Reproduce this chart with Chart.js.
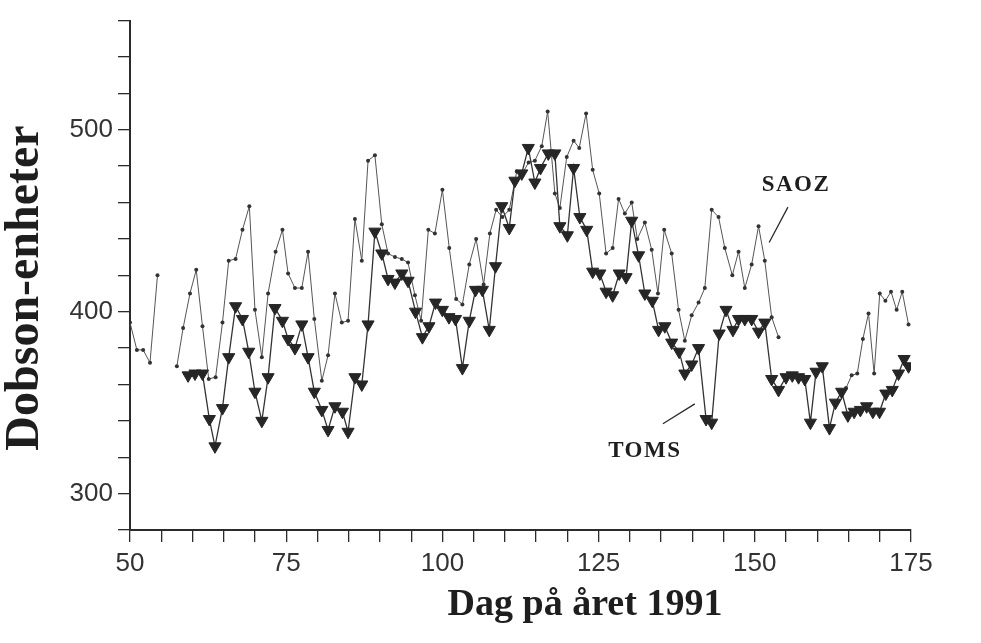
<!DOCTYPE html>
<html>
<head>
<meta charset="utf-8">
<script src="https://cdn.jsdelivr.net/npm/chart.js@4.4.1/dist/chart.umd.min.js"></script>
<style>
    html, body { margin: 0; background: #fff; }
    #wrap { width: 981px; height: 643px; }
</style>
</head>
<body>
<div id="wrap"><canvas id="chart" width="981" height="643"></canvas></div>
<script>
// SAOZ (null = no measurement, breaks the line)
const saozDays = [
    50, 51.1, 52.1, 53.2, 54.4, 56,
    57.5, 58.5, 59.6, 60.6, 61.6, 62.6, 63.7, 64.8, 65.8, 66.9, 68.0, 69.1, 70.0,
    71.1, 72.1, 73.3, 74.4, 75.3, 76.4, 77.5, 78.5, 79.5, 80.7, 81.7, 82.8, 83.9, 84.9,
    86.0, 87.1, 88.1, 89.2, 90.3, 91.3, 92.4, 93.5, 94.5, 95.6, 96.6, 97.75, 98.8,
    100.0, 101.1, 102.2, 103.2, 104.3, 105.4, 106.6, 107.6, 108.6, 109.6, 110.7,
    111.9, 112.8, 113.8, 114.8, 115.9, 116.85, 118.0, 118.8, 119.9, 121.0, 121.9,
    123.0, 124.05, 125.1, 126.2, 127.25, 128.2, 129.2, 130.3, 131.2, 132.4, 133.5,
    134.5, 135.5, 136.7, 137.8, 138.8, 139.9, 141.0, 142.0, 143.1, 144.2, 145.2,
    146.4, 147.4, 148.4, 149.5, 150.6, 151.6, 152.7, 153.8, 159,
    164.6, 165.5, 166.4, 167.3, 168.2, 169.1, 170.0, 170.9, 171.8, 172.7, 173.6, 174.6
];
const saozDobson = [
    394, 379, 379, 372, 420, null,
    370, 391, 410, 423, 392, 363, 364, 394, 428, 429, 445, 458, 401,
    375, 410, 433, 445, 421, 413, 413, 433, 396, 362, 376, 410, 394, 395,
    451, 428, 483, 486, 448, 432, 430, 429, 427, 409, 395, 445, 443,
    467, 435, 407, 404, 426, 440, 415, 443, 456, 452, 456,
    477, 476, 482, 483, 491, 510, 465, 457, 485, 494, 490,
    509, 478, 465, 432, 435, 462, 454, 460, 440, 449, 434,
    410, 445, 432, 401, 384, 398, 405, 413, 456, 452, 435,
    420, 433, 413, 426, 447, 428, 397, 386, null,
    358, 365, 366, 385, 399, 366, 410, 406, 411, 401, 411, 393
];

// TOMS
const tomsDays = [
    59.3, 60.4, 61.6, 62.7, 63.6, 64.8, 65.8, 66.9, 68.0, 69.0, 70.0, 71.1,
    72.1, 73.2, 74.4, 75.3, 76.4, 77.5, 78.5, 79.5, 80.7, 81.7, 82.8, 84.0, 84.9,
    86.0, 87.1, 88.1, 89.2, 90.3, 91.3, 92.4, 93.5, 94.5, 95.7, 96.8, 97.85, 98.9,
    100.0, 101.05, 102.1, 103.2, 104.3, 105.3, 106.4, 107.5, 108.5, 109.5, 110.7,
    111.6, 112.7, 113.75, 114.8, 115.7, 116.95, 118.0, 118.8, 120.0, 121.0, 122.0,
    123.1, 124.05, 125.2, 126.2, 127.25, 128.3, 129.4, 130.3, 131.4, 132.4, 133.6,
    134.6, 135.6, 136.7, 137.9, 138.8, 139.9, 141.0, 142.2, 143.1, 144.3, 145.4,
    146.5, 147.4, 148.4, 149.5, 150.6, 151.6, 152.7, 153.8, 155.0, 156.0, 157.0,
    158.0, 158.9, 159.8, 160.8, 161.95, 162.9, 163.9, 164.9, 165.9, 166.9, 167.9,
    168.9, 169.96, 170.97, 172.0, 173.0, 173.9, 174.6
];
const tomsDobson = [
    365, 366, 366, 341, 326, 347, 375, 403, 396, 378, 356, 340,
    364, 402, 395, 385, 380, 393, 375, 356, 346, 335, 348, 345, 334,
    364, 360, 393, 444, 432, 418, 416, 421, 417, 400, 386, 392, 405,
    401, 397, 396, 369, 395, 412, 412, 390, 425, 458, 446,
    472, 476, 490, 471, 479, 487, 487, 447, 442, 479, 452,
    445, 422, 421, 411, 409, 421, 419, 450, 431, 410, 406,
    390, 392, 383, 378, 366, 371, 380, 341, 339, 388, 401,
    390, 396, 396, 396, 389, 394, 363, 357, 364, 365, 364,
    363, 339, 367, 370, 336, 350, 356, 343, 345, 346, 348,
    345, 345, 355, 357, 366, 374, 370
];

const xLabelled = [50, 75, 100, 125, 150, 175];
const yLabelled = [300, 400, 500];

const ink = "#2b2b2b";
const serif = "'Liberation Serif', 'DejaVu Serif', serif";
const sans = "'Liberation Sans', Arial, sans-serif";

// axis titles and the two series labels with their pointer lines
const labelsPlugin = {
    id: "figureLabels",
    afterDraw(chart){
        const { ctx, scales: { x, y } } = chart;
        ctx.save();
        ctx.fillStyle = "#1e1e1e";
        ctx.textAlign = "center";
        ctx.textBaseline = "middle";

        ctx.font = "bold 23px " + serif;
        ctx.letterSpacing = "1.5px";
        ctx.fillText("SAOZ", x.getPixelForValue(156.6), y.getPixelForValue(469.6));
        ctx.fillText("TOMS", x.getPixelForValue(132.4), y.getPixelForValue(323.6));
        ctx.letterSpacing = "0px";

        ctx.strokeStyle = ink;
        ctx.lineWidth = 1.3;
        ctx.beginPath();
        ctx.moveTo(x.getPixelForValue(155.3), y.getPixelForValue(457.5));
        ctx.lineTo(x.getPixelForValue(152.3), y.getPixelForValue(438));
        ctx.moveTo(x.getPixelForValue(135.3), y.getPixelForValue(338.4));
        ctx.lineTo(x.getPixelForValue(140.4), y.getPixelForValue(349.3));
        ctx.stroke();

        ctx.font = "bold 38px " + serif;
        ctx.fillText("Dag på året 1991", 585, 605);

        ctx.translate(26, 288);
        ctx.rotate(-Math.PI / 2);
        ctx.font = "bold 48px " + serif;
        ctx.fillText("Dobson-enheter", 0, 0);
        ctx.restore();
    }
};

const toPoints = (days, vals) => days.map((d, i) => ({ x: d, y: vals[i] }));

new Chart(document.getElementById("chart"), {
    type: "line",
    data: {
        datasets: [{
            label: "TOMS",
            data: toPoints(tomsDays, tomsDobson),
            order: 0,
            borderColor: "#333",
            borderWidth: 1.3,
            pointStyle: "triangle",
            rotation: 180,
            pointRadius: 7,
            pointBackgroundColor: "#262626",
            pointBorderColor: "#262626",
            pointBorderWidth: 1,
            tension: 0
        }, {
            label: "SAOZ",
            data: toPoints(saozDays, saozDobson),
            order: 1,
            borderColor: "#555",
            borderWidth: 1,
            pointRadius: 2,
            pointBackgroundColor: "#333",
            pointBorderWidth: 0,
            spanGaps: false,
            tension: 0
        }]
    },
    options: {
        responsive: false,
        animation: false,
        layout: { padding: { top: 16, right: 70, left: 0, bottom: 0 } },
        plugins: {
            legend: { display: false },
            tooltip: { enabled: false }
        },
        scales: {
            x: {
                type: "linear",
                min: 50,
                max: 175,
                border: { color: ink, width: 2 },
                grid: { drawOnChartArea: false, tickLength: 12, color: ink, lineWidth: 1.3 },
                ticks: {
                    stepSize: 5,
                    autoSkip: false,
                    maxRotation: 0,
                    padding: 6,
                    color: "#333",
                    font: { family: sans, size: 26 },
                    callback: (v) => xLabelled.includes(v) ? String(v) : ""
                },
                afterFit(scale){ scale.height = 113; }
            },
            y: {
                min: 280,
                max: 560,
                border: { color: ink, width: 2 },
                grid: { drawOnChartArea: false, tickLength: 12, color: ink, lineWidth: 1.3 },
                ticks: {
                    stepSize: 20,
                    autoSkip: false,
                    padding: 5,
                    color: "#333",
                    font: { family: sans, size: 26 },
                    callback: (v) => yLabelled.includes(v) ? String(v) : ""
                },
                afterFit(scale){ scale.width = 130; }
            }
        }
    },
    plugins: [labelsPlugin]
});
</script>
</body>
</html>
